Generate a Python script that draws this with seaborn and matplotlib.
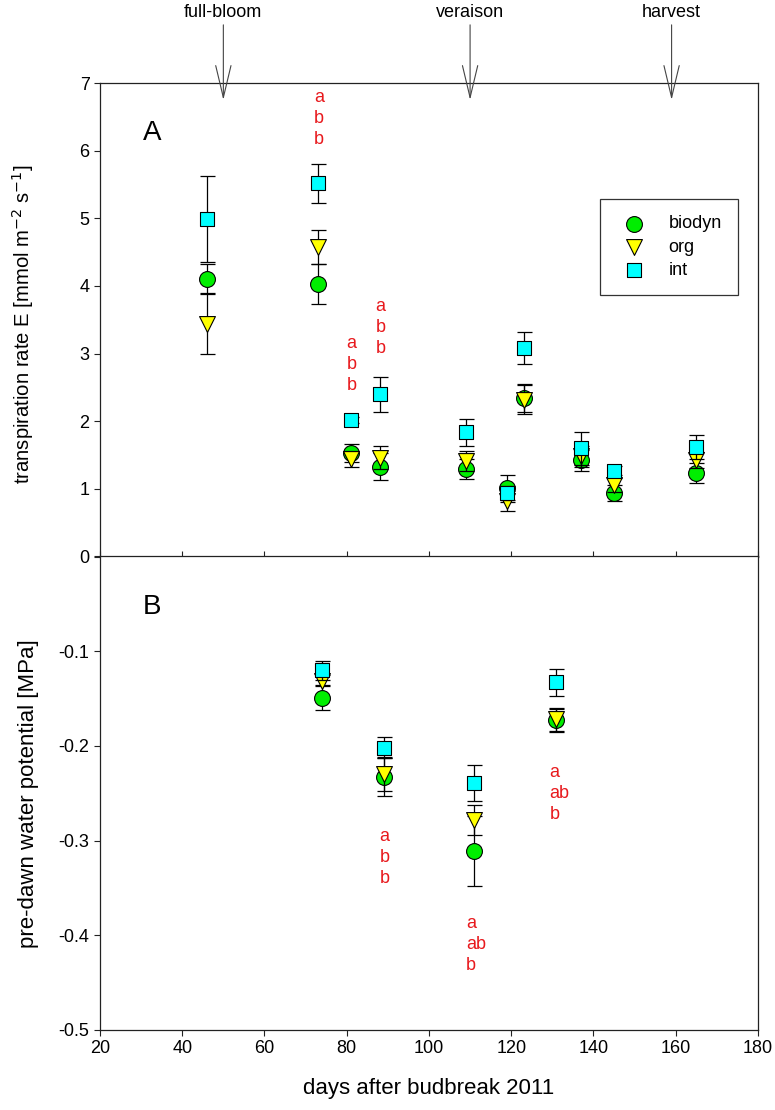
import matplotlib
matplotlib.use('Agg')
import matplotlib.pyplot as plt
import numpy as np
import pandas as pd
import seaborn as sns

sns.set_style('ticks')
plt.rcParams['font.family'] = ['Liberation Sans', 'DejaVu Sans']
plt.rcParams['axes.unicode_minus'] = False
plt.rcParams['text.color'] = 'black'
plt.rcParams['axes.labelcolor'] = 'black'
plt.rcParams['xtick.color'] = 'black'
plt.rcParams['ytick.color'] = 'black'

treatments = ['biodyn', 'org', 'int']

# transpiration rate E (panel A)
days_E = [46, 73, 81, 88, 109, 119, 123, 137, 145, 165]
biodyn_E = [4.10, 4.03, 1.53, 1.33, 1.29, 1.01, 2.34, 1.42, 0.94, 1.24]
biodyn_E_se = [0.22, 0.29, 0.13, 0.20, 0.15, 0.20, 0.21, 0.16, 0.12, 0.15]
org_E = [3.44, 4.58, 1.44, 1.46, 1.41, 0.82, 2.32, 1.48, 1.06, 1.43]
org_E_se = [0.45, 0.25, 0.12, 0.17, 0.15, 0.15, 0.21, 0.15, 0.10, 0.12]
int_E = [4.99, 5.52, 2.02, 2.40, 1.84, 0.94, 3.08, 1.60, 1.27, 1.62]
int_E_se = [0.63, 0.29, 0.05, 0.26, 0.20, 0.10, 0.24, 0.24, 0.07, 0.18]

# pre-dawn water potential (panel B)
days_P = [74, 89, 111, 131]
biodyn_P = [-0.149, -0.233, -0.311, -0.173]
biodyn_P_se = [0.013, 0.020, 0.037, 0.012]
org_P = [-0.131, -0.230, -0.278, -0.172]
org_P_se = [0.006, 0.018, 0.016, 0.012]
int_P = [-0.120, -0.202, -0.239, -0.133]
int_P_se = [0.010, 0.011, 0.019, 0.014]

# significance letters: (x, y of first row, rows)
letters_E = [(72, 6.79, ['a', 'b', 'b']), (80, 3.15, ['a', 'b', 'b']), (87, 3.69, ['a', 'b', 'b'])]
letters_P = [(88, -0.296, ['a', 'b', 'b']), (109, -0.388, ['a', 'ab', 'b']), (129.3, -0.228, ['a', 'ab', 'b'])]

events = ['full-bloom', 'veraison', 'harvest']
event_days = [50, 110, 159]

colors = {'biodyn': '#00ee00', 'org': '#ffff00', 'int': '#00ffff'}
markers = {'biodyn': 'o', 'org': 'v', 'int': 's'}
sizes = {'biodyn': 130, 'org': 130, 'int': 110}


def long_df(days, vals, ses):
    rows = []
    for t, v, s in zip(treatments, vals, ses):
        rows.append(pd.DataFrame({'day': days, 'value': v, 'se': s, 'treatment': t}))
    return pd.concat(rows, ignore_index=True)


df_E = long_df(days_E, [biodyn_E, org_E, int_E], [biodyn_E_se, org_E_se, int_E_se])
df_P = long_df(days_P, [biodyn_P, org_P, int_P], [biodyn_P_se, org_P_se, int_P_se])

fig = plt.figure(figsize=(7.75, 11.1), dpi=100)
ax1 = fig.add_axes([0.129, 0.4986, 0.849, 0.4266])
ax2 = fig.add_axes([0.129, 0.0721, 0.849, 0.4266])


def draw(ax, df):
    for z, t in enumerate(treatments):
        sub = df[df.treatment == t]
        ax.errorbar(sub.day, sub.value, yerr=sub.se, fmt='none', ecolor='black',
                    elinewidth=0.9, capsize=5.4, capthick=0.9, zorder=3 + 2 * z)
        sns.scatterplot(data=sub, x='day', y='value', marker=markers[t], color=colors[t],
                        s=sizes[t], edgecolor='black', linewidth=0.8, ax=ax,
                        label=t, legend=False, zorder=4 + 2 * z)
    ax.set_xlim(20, 180)
    ax.set_xticks(np.arange(20, 181, 20))
    for sp in ax.spines.values():
        sp.set_color('#222222')
        sp.set_linewidth(0.9)
    ax.tick_params(labelsize=13, length=4, width=0.8, color='#222222')


def letters(ax, groups, step):
    for x, y0, rows in groups:
        for i, s in enumerate(rows):
            ax.text(x, y0 - i * step, s, color='#e8191d', fontsize=13, ha='left', va='center')


draw(ax1, df_E)
ax1.set_ylim(0, 7)
ax1.set_yticks(range(0, 8))
ax1.set_yticklabels([''] + [str(i) for i in range(1, 8)])
ax1.tick_params(axis='x', direction='in', labelbottom=False)
ax1.set_xlabel('')
ax1.set_ylabel('transpiration rate E [mmol m$^{-2}$ s$^{-1}$]', fontsize=14.6)
ax1.yaxis.set_label_coords(-0.097, 0.49)
ax1.text(0.079, 0.895, 'A', transform=ax1.transAxes, fontsize=20, ha='center', va='center')
letters(ax1, letters_E, 0.31)
leg = ax1.legend(loc='upper left', bbox_to_anchor=(0.76, 0.755), frameon=True, fancybox=False,
                 edgecolor='#333333', framealpha=1, fontsize=13, borderpad=0.9,
                 handletextpad=0.9, labelspacing=0.35, borderaxespad=0)
leg.get_frame().set_linewidth(0.9)

for name, d in zip(events, event_days):
    ax1.annotate('', xy=(d, 6.75), xytext=(d, 7.86), annotation_clip=False,
                 arrowprops=dict(arrowstyle='->,head_length=2.3,head_width=0.55',
                                 color='#444444', lw=0.8, shrinkA=0, shrinkB=0))
    ax1.text(d, 8.04, name, fontsize=13, ha='center', va='center', clip_on=False)

draw(ax2, df_P)
ax2.set_ylim(-0.5, 0)
ax2.set_yticks([0, -0.1, -0.2, -0.3, -0.4, -0.5])
ax2.set_yticklabels(['0', '-0.1', '-0.2', '-0.3', '-0.4', '-0.5'])
ax2.tick_params(direction='out')
ax2.set_ylabel('pre-dawn water potential [MPa]', fontsize=16)
ax2.yaxis.set_label_coords(-0.093, 0.5)
ax2.set_xlabel('days after budbreak 2011', fontsize=16, labelpad=15)
ax2.text(0.079, 0.893, 'B', transform=ax2.transAxes, fontsize=20, ha='center', va='center')
letters(ax2, letters_P, 0.022)

fig.savefig('out.png', dpi=100)
